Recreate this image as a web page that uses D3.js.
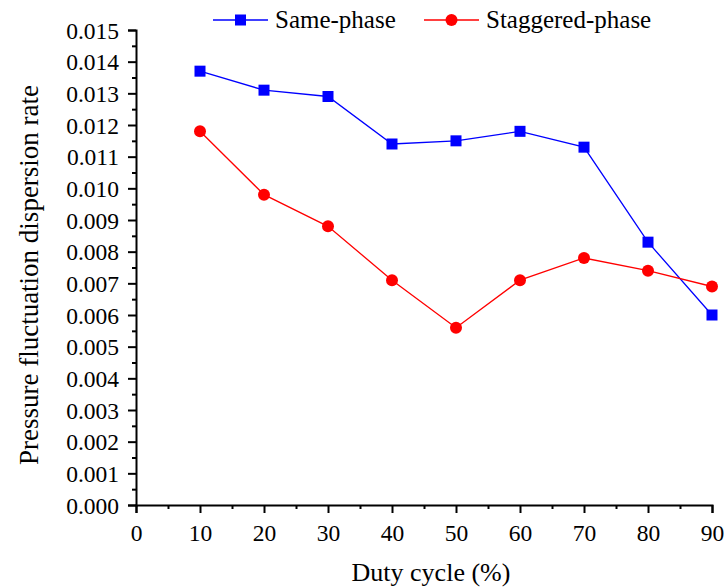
<!DOCTYPE html>
<html><head><meta charset="utf-8">
<script src="https://cdn.jsdelivr.net/npm/d3@7"></script>
<style>body{margin:0;background:#fff}svg{display:block}text{font-family:"Liberation Serif","Times New Roman",serif;fill:#000}</style>
</head><body><svg id="c" width="725" height="588"></svg>
<script>
const dutyCycle = [10,20,30,40,50,60,70,80,90];
const samePhase = [0.0137,0.0131,0.0129,0.0114,0.0115,0.0118,0.0113,0.0083,0.0060];
const staggeredPhase = [0.0118,0.0098,0.0088,0.0071,0.0056,0.0071,0.0078,0.0074,0.0069];
const xTicks = [0,10,20,30,40,50,60,70,80,90];
const yTicks = d3.range(0,16).map(i=>i/1000);
const seriesNames = ["Same-phase","Staggered-phase"];

const svg = d3.select("#c");
const x = d3.scaleLinear().domain([0,90]).range([136,712]);
const y = d3.scaleLinear().domain([0,0.015]).range([505,30]);

const xMinor = d3.range(5,90,10);
const yMinor = d3.range(0,15).map(i=>(i+0.5)/1000);
const gx = svg.append("g").attr("transform","translate(0,505)");
gx.call(d3.axisBottom(x).tickValues(xTicks).tickSize(8).tickPadding(11).tickFormat(d3.format("d")));
const gxm = svg.append("g").attr("transform","translate(0,505)");
gxm.call(d3.axisBottom(x).tickValues(xMinor).tickSize(4).tickFormat(""));
const gy = svg.append("g").attr("transform","translate(136,0)");
gy.call(d3.axisLeft(y).tickValues(yTicks).tickSize(8).tickPadding(9).tickFormat(d3.format(".3f")));
const gym = svg.append("g").attr("transform","translate(136,0)");
gym.call(d3.axisLeft(y).tickValues(yMinor).tickSize(4).tickFormat(""));
gxm.select(".domain").remove();
gym.select(".domain").remove();
svg.selectAll(".domain").attr("stroke","#000").attr("stroke-width",2);
svg.selectAll(".tick line").attr("stroke","#000").attr("stroke-width",2);
svg.selectAll(".tick text").style("font-size","23.5px").style("font-family","'Liberation Serif', serif").style("fill","#000");
gy.selectAll(".tick text").attr("dy","0.35em");

svg.append("text").attr("x",431).attr("y",581).attr("text-anchor","middle").style("font-size","26px").text("Duty cycle (%)");
svg.append("text").attr("transform","translate(38,275) rotate(-90)").attr("text-anchor","middle").style("font-size","27px").text("Pressure fluctuation dispersion rate");

const line = d3.line().x((d,i)=>x(dutyCycle[i])).y(d=>y(d));
svg.append("path").datum(samePhase).attr("d",line).attr("fill","none").attr("stroke","#0000ff").attr("stroke-width",1.3);
svg.append("path").datum(staggeredPhase).attr("d",line).attr("fill","none").attr("stroke","#ff0000").attr("stroke-width",1.3);
svg.selectAll(".sq").data(samePhase).enter().append("rect")
  .attr("x",(d,i)=>x(dutyCycle[i])-5.5).attr("y",d=>y(d)-5.5).attr("width",11).attr("height",11).attr("fill","#0000ff");
svg.selectAll(".ci").data(staggeredPhase).enter().append("circle")
  .attr("cx",(d,i)=>x(dutyCycle[i])).attr("cy",d=>y(d)).attr("r",6).attr("fill","#ff0000");

const leg = [{n:seriesNames[0],c:"#0000ff",x0:213,s:"sq"},{n:seriesNames[1],c:"#ff0000",x0:424,s:"ci"}];
leg.forEach(l=>{
  const g = svg.append("g");
  g.append("line").attr("x1",l.x0).attr("x2",l.x0+55).attr("y1",20).attr("y2",20).attr("stroke",l.c).attr("stroke-width",1.3);
  if(l.s==="sq") g.append("rect").attr("x",l.x0+27.5-5.5).attr("y",14.5).attr("width",11).attr("height",11).attr("fill",l.c);
  else g.append("circle").attr("cx",l.x0+27.5).attr("cy",20).attr("r",6).attr("fill",l.c);
  g.append("text").attr("x",l.x0+62).attr("y",28).style("font-size","25px").text(l.n);
});
</script></body></html>
